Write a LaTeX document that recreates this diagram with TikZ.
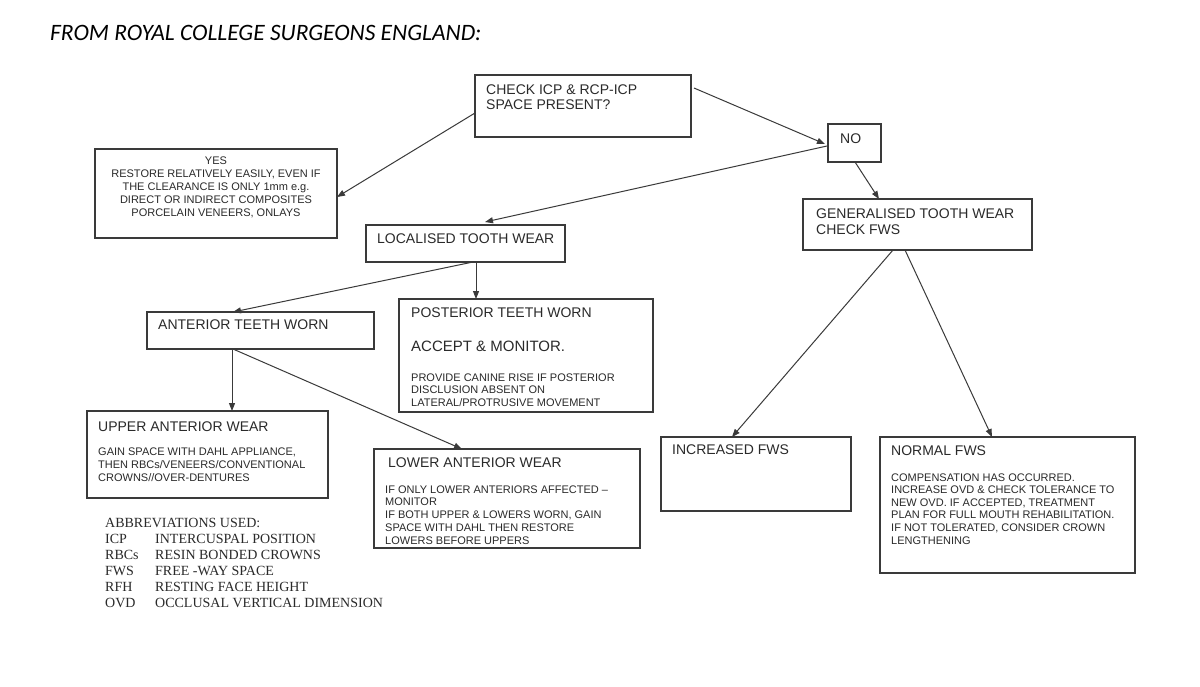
\documentclass[tikz,border=0pt]{standalone}
\usepackage{fontspec}
\setmainfont{Liberation Sans}
\newfontfamily\abbrfont{Liberation Serif}
\newfontfamily\titlefont{Carlito}
\usetikzlibrary{arrows.meta,calc}
\definecolor{linec}{HTML}{3A3A3A}
\definecolor{txtc}{HTML}{2A2A2A}
\begin{document}
\begin{tikzpicture}[x=1pt,y=-1pt,
  box/.style={draw=linec, line width=1.3pt, inner sep=0pt, outer sep=0pt, anchor=north west},
  big/.style={font=\fontsize{14}{15}\selectfont, text=txtc, inner sep=0pt, anchor=base west, align=left},
  small/.style={font=\fontsize{11}{12.8}\selectfont, text=txtc, inner sep=0pt, anchor=base west, align=left},
  abbr/.style={font=\abbrfont\fontsize{14}{16}\selectfont, text=txtc, inner sep=0pt, anchor=base west, align=left},
  arr/.style={draw=linec, line width=1pt, -{Triangle[length=8pt,width=6pt]}}]
\useasboundingbox[fill=white] (0,0) rectangle (1200,686);

% title
\node[inner sep=0pt, anchor=base west, font=\titlefont\itshape\fontsize{23.5}{26}\selectfont] (title) at (50,40) {FROM ROYAL COLLEGE SURGEONS ENGLAND:};

% boxes
\node[box, minimum width=216pt, minimum height=62pt]  (top)   at (475,75)  {};
\node[box, minimum width=242pt, minimum height=89pt]  (yes)   at (95,149)  {};
\node[box, minimum width=53pt,  minimum height=38pt]  (no)    at (828,124) {};
\node[box, minimum width=229pt, minimum height=51pt]  (gen)   at (803,199) {};
\node[box, minimum width=199pt, minimum height=37pt]  (loc)   at (366,225) {};
\node[box, minimum width=227pt, minimum height=37pt]  (ant)   at (147,312) {};
\node[box, minimum width=254pt, minimum height=113pt] (post)  at (399,299) {};
\node[box, minimum width=241pt, minimum height=87pt]  (upper) at (87,411)  {};
\node[box, minimum width=266pt, minimum height=99pt]  (lower) at (374,449) {};
\node[box, minimum width=190pt, minimum height=74pt]  (inc)   at (661,437) {};
\node[box, minimum width=255pt, minimum height=136pt] (norm)  at (880,437) {};

% texts (base anchor = baseline of the last line)
\node[big] (ttop) at (486,109) {CHECK ICP \& RCP-ICP\\SPACE PRESENT?};
\node[small, anchor=base, align=center] (tyes) at (216,216) {YES\\RESTORE RELATIVELY EASILY, EVEN IF\\THE CLEARANCE IS ONLY 1mm e.g.\\DIRECT OR INDIRECT COMPOSITES\\PORCELAIN VENEERS, ONLAYS};
\node[big] (tno) at (840,143) {NO};
\node[big, font=\fontsize{14}{16}\selectfont] (tgen) at (816,234) {GENERALISED TOOTH WEAR\\CHECK FWS};
\node[big] (tloc) at (377,243) {LOCALISED TOOTH WEAR};
\node[big] (tant) at (158,329) {ANTERIOR TEETH WORN};
\node[big] (tpost) at (411,317) {POSTERIOR TEETH WORN};
\node[big, font=\fontsize{15}{17}\selectfont] (tacc) at (411,351.5) {ACCEPT \& MONITOR.};
\node[small, font=\fontsize{11}{12.6}\selectfont] (tpost2) at (411,406.2) {PROVIDE CANINE RISE IF POSTERIOR\\DISCLUSION ABSENT ON\\LATERAL/PROTRUSIVE MOVEMENT};
\node[big] (tup) at (98,431) {UPPER ANTERIOR WEAR};
\node[small, font=\fontsize{11}{13}\selectfont] (tup2) at (98,481) {GAIN SPACE WITH DAHL APPLIANCE,\\THEN RBCs/VENEERS/CONVENTIONAL\\CROWNS//OVER-DENTURES};
\node[big] (tlow) at (388,467) {LOWER ANTERIOR WEAR};
\node[small] (tlow2) at (385,544.2) {IF ONLY LOWER ANTERIORS AFFECTED --\\MONITOR\\IF BOTH UPPER \& LOWERS WORN, GAIN\\SPACE WITH DAHL THEN RESTORE\\LOWERS BEFORE UPPERS};
\node[big] (tinc) at (672,454) {INCREASED FWS};
\node[big] (tnorm) at (891,455) {NORMAL FWS};
\node[small, font=\fontsize{11}{12.6}\selectfont] (tnorm2) at (891,544) {COMPENSATION HAS OCCURRED.\\INCREASE OVD \& CHECK TOLERANCE TO\\NEW OVD. IF ACCEPTED, TREATMENT\\PLAN FOR FULL MOUTH REHABILITATION.\\IF NOT TOLERATED, CONSIDER CROWN\\LENGTHENING};

% abbreviations
\node[abbr] (abh) at (105,527) {ABBREVIATIONS USED:};
\node[abbr] (abk) at (105,607) {ICP\\RBCs\\FWS\\RFH\\OVD};
\node[abbr] (abv) at (155,607) {INTERCUSPAL POSITION\\RESIN BONDED CROWNS\\FREE -WAY SPACE\\RESTING FACE HEIGHT\\OCCLUSAL VERTICAL DIMENSION};

% connectors
\draw[arr] ($(top.north west)+(0,38)$) -- ($(yes.north east)+(0,48)$);
\draw[arr] ($(top.north east)+(3,13)$) -- ($(no.north west)+(-3,20)$);
\draw[arr] ($(no.north west)+(-1,22)$) -- ($(loc.north west)+(119,-3)$);
\draw[arr] ($(no.south west)+(27,0)$) -- ($(gen.north west)+(76,0)$);
\draw[arr] ($(loc.south west)+(110,0)$) -- ($(post.north west)+(77,0)$);
\draw[arr] ($(loc.south west)+(107,0)$) -- ($(ant.north west)+(86,0)$);
\draw[arr] ($(ant.south west)+(85,0)$) -- ($(upper.north west)+(145,0)$);
\draw[arr] ($(ant.south west)+(86,0)$) -- ($(lower.north west)+(88,0)$);
\draw[arr] ($(gen.south west)+(90,0)$) -- ($(inc.north west)+(71,0)$);
\draw[arr] ($(gen.south west)+(102,0)$) -- ($(norm.north west)+(112,0)$);
\end{tikzpicture}
\end{document}
